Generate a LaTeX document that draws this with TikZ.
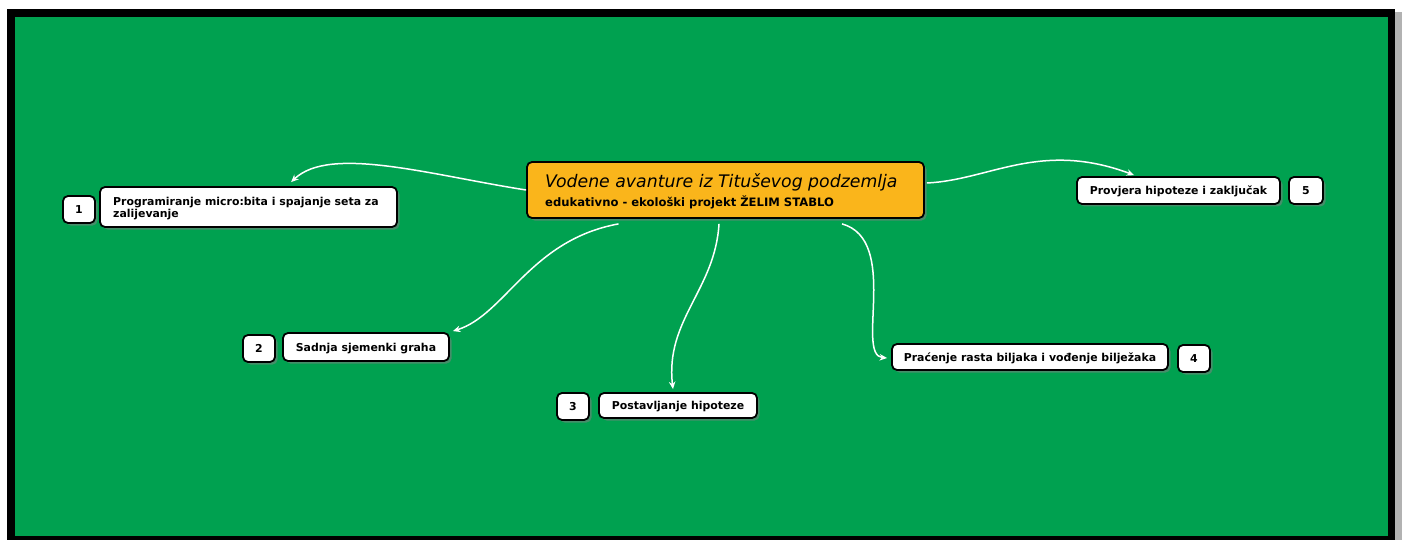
\documentclass[tikz,border=0pt]{standalone}
\usepackage{fontspec}
\setmainfont{DejaVu Sans}
\usetikzlibrary{shadows,arrows.meta}
\definecolor{bggreen}{RGB}{0,161,80}
\definecolor{boxorange}{RGB}{250,181,27}
\begin{document}
\begin{tikzpicture}[x=1pt,y=-1pt,
  card/.style={draw=black, line width=1.8pt, fill=white, rounded corners=5pt, inner sep=0pt,
    drop shadow={shadow xshift=2.5pt, shadow yshift=-2.5pt, opacity=0.55},
    font=\fontsize{10.9}{12.5}\selectfont\bfseries, text height=9.5pt, text depth=1.5pt},
  lbl/.style={inner sep=0pt, anchor=base west, font=\fontsize{10.9}{12.5}\selectfont\bfseries},
  link/.style={draw=white, line width=1.5pt, -{Stealth[length=7.5pt,width=6.5pt]}}
]
\useasboundingbox (0,0) rectangle (1402,540);
% frame
\fill[white] (0,0) rectangle (1402,540);
\fill[black!30] (1395,12) rectangle (1402,540);
\fill[black] (7,9) rectangle (1395,540);
\fill[bggreen] (15,17) rectangle (1388,536);

% central
\node[card, fill=boxorange, minimum width=397pt, minimum height=56pt] (c) at (725.5,190) {};
\node[lbl, font=\fontsize{17.3}{20}\selectfont\itshape] (ttl) at (545,188) {Vodene avanture iz Tituševog podzemlja};
\node[lbl, font=\fontsize{11.6}{14}\selectfont\bfseries] (sub) at (545,206.5) {edukativno - ekološki projekt ŽELIM STABLO};

% 1
\node[card, minimum width=297pt, minimum height=40pt] (b1) at (248.5,207) {};
\node[lbl] (b1a) at (113,205.5) {Programiranje micro:bita i spajanje seta za};
\node[lbl] (b1b) at (113,217.5) {zalijevanje};
\node[card, minimum width=32pt, minimum height=27pt] (k1) at (79,209.5) {1};

% 2
\node[card, minimum width=166pt, minimum height=28pt] (b2) at (366,347) {Sadnja sjemenki graha};
\node[card, minimum width=32pt, minimum height=27pt] (k2) at (259,348.5) {2};

% 3
\node[card, minimum width=158pt, minimum height=25pt] (b3) at (678,405.5) {Postavljanje hipoteze};
\node[card, minimum width=32pt, minimum height=27pt] (k3) at (573,406.5) {3};

% 4
\node[card, minimum width=276pt, minimum height=26pt] (b4) at (1030,357) {Praćenje rasta biljaka i vođenje bilježaka};
\node[card, minimum width=32pt, minimum height=27pt] (k4) at (1194,358.5) {4};

% 5
\node[card, minimum width=203pt, minimum height=27pt] (b5) at (1178.5,190.5) {Provjera hipoteze i zaključak};
\node[card, minimum width=34pt, minimum height=27pt] (k5) at (1306,190.5) {5};

% connectors
\draw[link] (c.west) .. controls (430,175) and (330,145) .. ([xshift=192pt,yshift=4pt]b1.north west);
\draw[link] ([xshift=-107pt,yshift=-5pt]c.south) .. controls (530,240) and (505,315) .. ([xshift=3pt,yshift=1pt]b2.north east);
\draw[link] ([xshift=-6.5pt,yshift=-5pt]c.south) .. controls (715,290) and (665,320) .. ([xshift=-5pt,yshift=3pt]b3.north);
\draw[link] ([xshift=116.5pt,yshift=-5pt]c.south) .. controls (900,240) and (855,355) .. ([xshift=-4pt,yshift=-1pt]b4.west);
\draw[link] ([xshift=2pt,yshift=7pt]c.east) .. controls (990,180) and (1040,140) .. ([xshift=58pt,yshift=1pt]b5.north west);
\end{tikzpicture}
\end{document}
